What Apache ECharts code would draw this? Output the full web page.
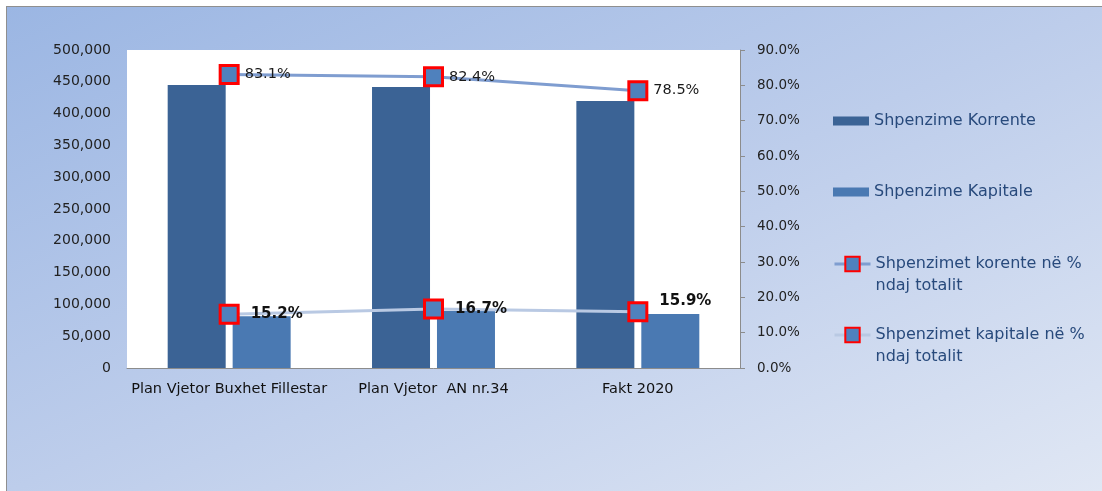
<!DOCTYPE html>
<html>
<head>
<meta charset="utf-8">
<script src="https://cdn.jsdelivr.net/npm/echarts@6/dist/echarts.min.js"></script>
<style>
html,body{margin:0;padding:0;width:1102px;height:491px;overflow:hidden;background:#fff;}
#frame{position:absolute;left:6px;top:6px;width:1096px;height:485px;border-left:1px solid #8f8f8f;border-top:1px solid #8f8f8f;
background:linear-gradient(to bottom right,#9bb6e3 0%,#bdcdeb 50%,#e0e7f4 100%);}
#chart{position:absolute;left:0;top:0;width:1102px;height:491px;}
</style>
</head>
<body>
<div id="frame"></div>
<div id="chart"></div>
<script>
const categories = ['Plan Vjetor Buxhet Fillestar', 'Plan Vjetor  AN nr.34', 'Fakt 2020'];
const korrente = [445000, 441800, 419800];
const kapitale = [81500, 89500, 85000];
const korrentePct = [0.831, 0.824, 0.785];
const kapitalePct = [0.152, 0.167, 0.159];
const leftTicks = { min: 0, max: 500000, interval: 50000 };
const rightTicks = { min: 0, max: 0.9, interval: 0.1 };
const names = ['Shpenzime Korrente', 'Shpenzime Kapitale', 'Shpenzimet korente në % ndaj totalit', 'Shpenzimet kapitale në % ndaj totalit'];
const legendLabels = {
  'Shpenzimet korente në % ndaj totalit': '\nShpenzimet korente në %\nndaj totalit',
  'Shpenzimet kapitale në % ndaj totalit': '\nShpenzimet kapitale në %\nndaj totalit'
};

const chart = echarts.init(document.getElementById('chart'), null, { renderer: 'canvas' });
const font = 'DejaVu Sans';
function legendFor(name, top, isLine) {
  return {
    data: isLine ? [{ name: name }] : [{ name: name, icon: 'rect' }],
    left: 833, top: top, orient: 'vertical', padding: 0,
    itemWidth: 36, itemHeight: isLine ? 18 : 9, itemGap: 0,
    lineStyle: { width: 3 },
    textStyle: { fontFamily: font, fontSize: 16, color: '#284a7c', lineHeight: 22 },
    formatter: n => legendLabels[n] || n
  };
}
const option = {
  backgroundColor: 'transparent',
  animation: false,
  legend: [
    legendFor(names[0], 110, false),
    legendFor(names[1], 181, false),
    legendFor(names[2], 231, true),
    legendFor(names[3], 302, true)
  ],
  grid: { left: 127, top: 50, right: 362, bottom: 123, show: true, backgroundColor: '#ffffff', borderWidth: 0 },
  xAxis: {
    type: 'category', data: categories,
    axisLine: { show: true, lineStyle: { color: '#8c8c8c', width: 1 } },
    axisTick: { show: false },
    axisLabel: { fontFamily: font, fontSize: 14.5, color: '#111', margin: 14, interval: 0 }
  },
  yAxis: [
    {
      type: 'value', min: leftTicks.min, max: leftTicks.max, interval: leftTicks.interval,
      axisLine: { show: false }, axisTick: { show: false }, splitLine: { show: false },
      axisLabel: { fontFamily: font, fontSize: 14, color: '#222', margin: 16,
        formatter: v => v.toLocaleString('en-US') }
    },
    {
      type: 'value', min: rightTicks.min, max: rightTicks.max, interval: rightTicks.interval,
      position: 'right',
      axisLine: { show: true, lineStyle: { color: '#8c8c8c', width: 1 } },
      axisTick: { show: true, length: 5, lineStyle: { color: '#8c8c8c' } },
      splitLine: { show: false },
      axisLabel: { fontFamily: font, fontSize: 13.5, color: '#222', margin: 17,
        formatter: v => (v * 100).toFixed(1) + '%' }
    }
  ],
  series: [
    {
      name: names[0], type: 'bar', data: korrente, yAxisIndex: 0,
      barWidth: 58, barGap: '12%',
      itemStyle: { color: '#3b6395' }
    },
    {
      name: names[1], type: 'bar', data: kapitale, yAxisIndex: 0,
      barWidth: 58, barGap: '12%',
      itemStyle: { color: '#4a79b2' }
    },
    {
      name: names[2], type: 'line', data: korrentePct, yAxisIndex: 1,
      symbol: 'rect', symbolSize: 18, z: 5,
      lineStyle: { color: '#7f9dd0', width: 3 },
      itemStyle: { color: '#4f81bd', borderColor: '#ff0000', borderWidth: 3 },
      label: { show: true, position: 'right', distance: 5, fontFamily: font, fontSize: 14.5, color: '#1a1a1a',
        formatter: p => (p.value * 100).toFixed(1) + '%' }
    },
    {
      name: names[3], type: 'line', yAxisIndex: 1,
      data: kapitalePct.map((v, i) => i === 2 ? { value: v, label: { offset: [0, -11] } } : v),
      symbol: 'rect', symbolSize: 18, z: 5,
      lineStyle: { color: '#b9c9e3', width: 3 },
      itemStyle: { color: '#4f81bd', borderColor: '#ff0000', borderWidth: 3 },
      label: { show: true, position: 'right', distance: 11, fontFamily: font, fontSize: 15, fontWeight: 'bold', color: '#111',
        formatter: p => (p.value * 100).toFixed(1) + '%' }
    }
  ]
};
chart.setOption(option);
</script>
</body>
</html>
